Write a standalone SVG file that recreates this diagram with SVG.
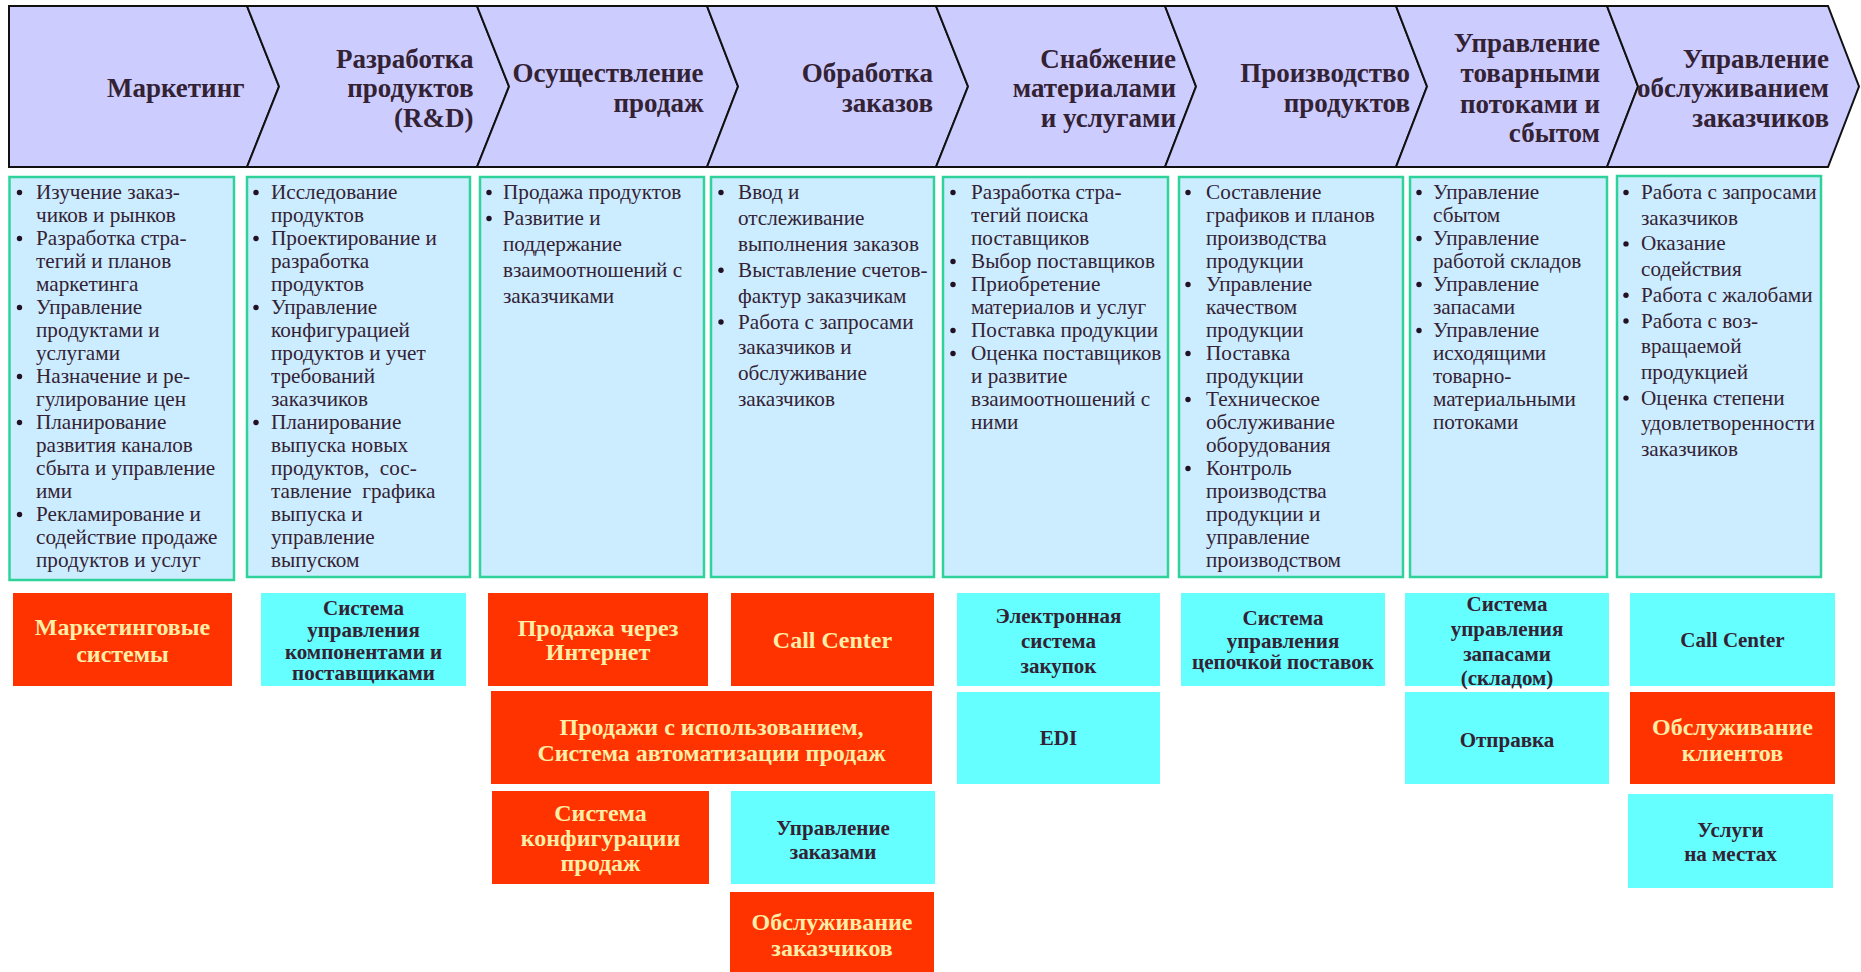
<svg xmlns="http://www.w3.org/2000/svg" width="1861" height="972" viewBox="0 0 1861 972">
<style>
.hdr{fill:#CCCCFF;stroke:#111111;stroke-width:2;stroke-linejoin:miter}
.ht{font-family:"Liberation Serif",serif;font-weight:bold;font-size:27px;fill:#332233;text-anchor:end}
.box{fill:#CCECFF;stroke:#2FD39A;stroke-width:2.5}
.bt{font-family:"Liberation Serif",serif;font-size:21.2px;fill:#332233}
.dot{fill:#221122}
.red{fill:#FF3300}
.cyan{fill:#66FFFF}
.rt{font-family:"Liberation Serif",serif;font-weight:bold;font-size:24px;fill:#FFEEA8;text-anchor:middle}
.ct{font-family:"Liberation Serif",serif;font-weight:bold;font-size:21px;fill:#332233;text-anchor:middle}
</style>

<g id="header-1"><polygon class="hdr" points="9,6 247,6 279,86.5 247,167 9,167"/>
<text class="ht"><tspan x="244.5" y="97">Маркетинг</tspan></text></g>
<g id="header-2"><polygon class="hdr" points="247,6 477,6 509,86.5 477,167 247,167 279,86.5"/>
<text class="ht"><tspan x="473.5" y="67.5">Разработка</tspan><tspan x="473.5" y="97">продуктов</tspan><tspan x="473.5" y="127">(R&amp;D)</tspan></text></g>
<g id="header-3"><polygon class="hdr" points="477,6 707,6 738,86.5 707,167 477,167 509,86.5"/>
<text class="ht"><tspan x="703.5" y="82">Осуществление</tspan><tspan x="703.5" y="112">продаж</tspan></text></g>
<g id="header-4"><polygon class="hdr" points="707,6 936,6 968,86.5 936,167 707,167 738,86.5"/>
<text class="ht"><tspan x="933" y="82">Обработка</tspan><tspan x="933" y="112">заказов</tspan></text></g>
<g id="header-5"><polygon class="hdr" points="936,6 1165,6 1196,86.5 1165,167 936,167 968,86.5"/>
<text class="ht"><tspan x="1176" y="67.5">Снабжение</tspan><tspan x="1176" y="97">материалами</tspan><tspan x="1176" y="127">и услугами</tspan></text></g>
<g id="header-6"><polygon class="hdr" points="1165,6 1396,6 1427,86.5 1396,167 1165,167 1196,86.5"/>
<text class="ht"><tspan x="1410" y="82">Производство</tspan><tspan x="1410" y="112">продуктов</tspan></text></g>
<g id="header-7"><polygon class="hdr" points="1396,6 1607,6 1638,86.5 1607,167 1396,167 1427,86.5"/>
<text class="ht"><tspan x="1600" y="52">Управление</tspan><tspan x="1600" y="82">товарными</tspan><tspan x="1600" y="112.5">потоками и</tspan><tspan x="1600" y="142">сбытом</tspan></text></g>
<g id="header-8"><polygon class="hdr" points="1607,6 1828,6 1859,86.5 1828,167 1607,167 1638,86.5"/>
<text class="ht"><tspan x="1829" y="67.5">Управление</tspan><tspan x="1829" y="97">обслуживанием</tspan><tspan x="1829" y="127">заказчиков</tspan></text></g>

<g id="tasks-1"><rect class="box" x="9.5" y="177" width="224.5" height="403"/>
<g class="dot"><circle cx="19.5" cy="192.5" r="2.7"/><circle cx="19.5" cy="238.5" r="2.7"/><circle cx="19.5" cy="307.5" r="2.7"/><circle cx="19.5" cy="376.5" r="2.7"/><circle cx="19.5" cy="422.5" r="2.7"/><circle cx="19.5" cy="514.5" r="2.7"/></g>
<text class="bt"><tspan x="36" y="199">Изучение заказ-</tspan><tspan x="36" y="222">чиков и рынков</tspan><tspan x="36" y="245">Разработка стра-</tspan><tspan x="36" y="268">тегий и планов</tspan><tspan x="36" y="291">маркетинга</tspan><tspan x="36" y="314">Управление</tspan><tspan x="36" y="337">продуктами и</tspan><tspan x="36" y="360">услугами</tspan><tspan x="36" y="383">Назначение и ре-</tspan><tspan x="36" y="406">гулирование цен</tspan><tspan x="36" y="429">Планирование</tspan><tspan x="36" y="452">развития каналов</tspan><tspan x="36" y="475">сбыта и управление</tspan><tspan x="36" y="498">ими</tspan><tspan x="36" y="521">Рекламирование и</tspan><tspan x="36" y="544">содействие продаже</tspan><tspan x="36" y="567">продуктов и услуг</tspan></text></g>

<g id="tasks-2"><rect class="box" x="247" y="177" width="223" height="400"/>
<g class="dot"><circle cx="256" cy="192.5" r="2.7"/><circle cx="256" cy="238.5" r="2.7"/><circle cx="256" cy="307.5" r="2.7"/><circle cx="256" cy="422.5" r="2.7"/></g>
<text class="bt" xml:space="preserve"><tspan x="271" y="199">Исследование</tspan><tspan x="271" y="222">продуктов</tspan><tspan x="271" y="245">Проектирование и</tspan><tspan x="271" y="268">разработка</tspan><tspan x="271" y="291">продуктов</tspan><tspan x="271" y="314">Управление</tspan><tspan x="271" y="337">конфигурацией</tspan><tspan x="271" y="360">продуктов и учет</tspan><tspan x="271" y="383">требований</tspan><tspan x="271" y="406">заказчиков</tspan><tspan x="271" y="429">Планирование</tspan><tspan x="271" y="452">выпуска новых</tspan><tspan x="271" y="475">продуктов,  сос-</tspan><tspan x="271" y="498">тавление  графика</tspan><tspan x="271" y="521">выпуска и</tspan><tspan x="271" y="544">управление</tspan><tspan x="271" y="567">выпуском</tspan></text></g>

<g id="tasks-3"><rect class="box" x="480" y="177" width="224" height="400"/>
<g class="dot"><circle cx="489" cy="192.5" r="2.7"/><circle cx="489" cy="218.5" r="2.7"/></g>
<text class="bt"><tspan x="503" y="199">Продажа продуктов</tspan><tspan x="503" y="225">Развитие и</tspan><tspan x="503" y="251">поддержание</tspan><tspan x="503" y="277">взаимоотношений с</tspan><tspan x="503" y="303">заказчиками</tspan></text></g>

<g id="tasks-4"><rect class="box" x="711" y="177" width="223" height="400"/>
<g class="dot"><circle cx="721" cy="192.5" r="2.7"/><circle cx="721" cy="270.2" r="2.7"/><circle cx="721" cy="322" r="2.7"/></g>
<text class="bt"><tspan x="738" y="199">Ввод и</tspan><tspan x="738" y="224.9">отслеживание</tspan><tspan x="738" y="250.8">выполнения заказов</tspan><tspan x="738" y="276.7">Выставление счетов-</tspan><tspan x="738" y="302.6">фактур заказчикам</tspan><tspan x="738" y="328.5">Работа с запросами</tspan><tspan x="738" y="354.4">заказчиков и</tspan><tspan x="738" y="380.3">обслуживание</tspan><tspan x="738" y="406.2">заказчиков</tspan></text></g>

<g id="tasks-5"><rect class="box" x="943" y="177" width="225" height="400"/>
<g class="dot"><circle cx="953" cy="192.5" r="2.7"/><circle cx="953" cy="261.5" r="2.7"/><circle cx="953" cy="284.5" r="2.7"/><circle cx="953" cy="330.5" r="2.7"/><circle cx="953" cy="353.5" r="2.7"/></g>
<text class="bt"><tspan x="971" y="199">Разработка стра-</tspan><tspan x="971" y="222">тегий поиска</tspan><tspan x="971" y="245">поставщиков</tspan><tspan x="971" y="268">Выбор поставщиков</tspan><tspan x="971" y="291">Приобретение</tspan><tspan x="971" y="314">материалов и услуг</tspan><tspan x="971" y="337">Поставка продукции</tspan><tspan x="971" y="360">Оценка поставщиков</tspan><tspan x="971" y="383">и развитие</tspan><tspan x="971" y="406">взаимоотношений с</tspan><tspan x="971" y="429">ними</tspan></text></g>

<g id="tasks-6"><rect class="box" x="1179" y="177" width="224" height="400"/>
<g class="dot"><circle cx="1188" cy="192.5" r="2.7"/><circle cx="1188" cy="284.5" r="2.7"/><circle cx="1188" cy="353.5" r="2.7"/><circle cx="1188" cy="399.5" r="2.7"/><circle cx="1188" cy="468.5" r="2.7"/></g>
<text class="bt"><tspan x="1206" y="199">Составление</tspan><tspan x="1206" y="222">графиков и планов</tspan><tspan x="1206" y="245">производства</tspan><tspan x="1206" y="268">продукции</tspan><tspan x="1206" y="291">Управление</tspan><tspan x="1206" y="314">качеством</tspan><tspan x="1206" y="337">продукции</tspan><tspan x="1206" y="360">Поставка</tspan><tspan x="1206" y="383">продукции</tspan><tspan x="1206" y="406">Техническое</tspan><tspan x="1206" y="429">обслуживание</tspan><tspan x="1206" y="452">оборудования</tspan><tspan x="1206" y="475">Контроль</tspan><tspan x="1206" y="498">производства</tspan><tspan x="1206" y="521">продукции и</tspan><tspan x="1206" y="544">управление</tspan><tspan x="1206" y="567">производством</tspan></text></g>

<g id="tasks-7"><rect class="box" x="1410" y="177" width="197" height="400"/>
<g class="dot"><circle cx="1419" cy="192.5" r="2.7"/><circle cx="1419" cy="238.5" r="2.7"/><circle cx="1419" cy="284.5" r="2.7"/><circle cx="1419" cy="330.5" r="2.7"/></g>
<text class="bt"><tspan x="1433" y="199">Управление</tspan><tspan x="1433" y="222">сбытом</tspan><tspan x="1433" y="245">Управление</tspan><tspan x="1433" y="268">работой складов</tspan><tspan x="1433" y="291">Управление</tspan><tspan x="1433" y="314">запасами</tspan><tspan x="1433" y="337">Управление</tspan><tspan x="1433" y="360">исходящими</tspan><tspan x="1433" y="383">товарно-</tspan><tspan x="1433" y="406">материальными</tspan><tspan x="1433" y="429">потоками</tspan></text></g>

<g id="tasks-8"><rect class="box" x="1617" y="176" width="204" height="401"/>
<g class="dot"><circle cx="1626" cy="192.5" r="2.7"/><circle cx="1626" cy="243.9" r="2.7"/><circle cx="1626" cy="295.3" r="2.7"/><circle cx="1626" cy="321" r="2.7"/><circle cx="1626" cy="398.1" r="2.7"/></g>
<text class="bt"><tspan x="1641" y="199">Работа с запросами</tspan><tspan x="1641" y="224.7">заказчиков</tspan><tspan x="1641" y="250.4">Оказание</tspan><tspan x="1641" y="276.1">содействия</tspan><tspan x="1641" y="301.8">Работа с жалобами</tspan><tspan x="1641" y="327.5">Работа с воз-</tspan><tspan x="1641" y="353.2">вращаемой</tspan><tspan x="1641" y="378.9">продукцией</tspan><tspan x="1641" y="404.6">Оценка степени</tspan><tspan x="1641" y="430.3">удовлетворенности</tspan><tspan x="1641" y="456">заказчиков</tspan></text></g>

<g id="sys-marketing"><rect class="red" x="13" y="593" width="219" height="93"/>
<text class="rt"><tspan x="122.5" y="635">Маркетинговые</tspan><tspan x="122.5" y="662">системы</tspan></text></g>
<g id="sys-components"><rect class="cyan" x="261" y="593" width="205" height="93"/>
<text class="ct"><tspan x="363.5" y="615">Система</tspan><tspan x="363.5" y="637">управления</tspan><tspan x="363.5" y="659">компонентами и</tspan><tspan x="363.5" y="680">поставщиками</tspan></text></g>
<g id="sys-internet"><rect class="red" x="488" y="593" width="220" height="93"/>
<text class="rt"><tspan x="598" y="636">Продажа через</tspan><tspan x="598" y="660">Интернет</tspan></text></g>
<g id="sys-callcenter-1"><rect class="red" x="731" y="593" width="203" height="93"/>
<text class="rt"><tspan x="832.5" y="648">Call Center</tspan></text></g>
<g id="sys-procurement"><rect class="cyan" x="957" y="593" width="203" height="93"/>
<text class="ct"><tspan x="1058.5" y="623">Электронная</tspan><tspan x="1058.5" y="648">система</tspan><tspan x="1058.5" y="673">закупок</tspan></text></g>
<g id="sys-supplychain"><rect class="cyan" x="1181" y="593" width="204" height="93"/>
<text class="ct"><tspan x="1283" y="625">Система</tspan><tspan x="1283" y="648">управления</tspan><tspan x="1283" y="669">цепочкой поставок</tspan></text></g>
<g id="sys-inventory"><rect class="cyan" x="1405" y="593" width="204" height="93"/>
<text class="ct"><tspan x="1507" y="611">Система</tspan><tspan x="1507" y="636">управления</tspan><tspan x="1507" y="661">запасами</tspan><tspan x="1507" y="685">(складом)</tspan></text></g>
<g id="sys-callcenter-2"><rect class="cyan" x="1630" y="593" width="205" height="93"/>
<text class="ct"><tspan x="1732.5" y="647">Call Center</tspan></text></g>

<g id="sys-sfa"><rect class="red" x="491" y="691" width="441" height="93"/>
<text class="rt"><tspan x="711.5" y="735">Продажи с использованием,</tspan><tspan x="711.5" y="761">Система автоматизации продаж</tspan></text></g>
<g id="sys-edi"><rect class="cyan" x="957" y="692" width="203" height="92"/>
<text class="ct"><tspan x="1058.5" y="745">EDI</tspan></text></g>
<g id="sys-shipping"><rect class="cyan" x="1405" y="692" width="204" height="92"/>
<text class="ct"><tspan x="1507" y="747">Отправка</tspan></text></g>
<g id="sys-clientservice"><rect class="red" x="1630" y="692" width="205" height="92"/>
<text class="rt"><tspan x="1732.5" y="735">Обслуживание</tspan><tspan x="1732.5" y="761">клиентов</tspan></text></g>

<g id="sys-configurator"><rect class="red" x="492" y="791" width="217" height="93"/>
<text class="rt"><tspan x="600.5" y="821">Система</tspan><tspan x="600.5" y="846">конфигурации</tspan><tspan x="600.5" y="871">продаж</tspan></text></g>
<g id="sys-orders"><rect class="cyan" x="731" y="791" width="204" height="93"/>
<text class="ct"><tspan x="833" y="835">Управление</tspan><tspan x="833" y="859">заказами</tspan></text></g>
<g id="sys-fieldservice"><rect class="cyan" x="1628" y="794" width="205" height="94"/>
<text class="ct"><tspan x="1730.5" y="837">Услуги</tspan><tspan x="1730.5" y="861">на местах</tspan></text></g>
<g id="sys-customerservice"><rect class="red" x="730" y="892" width="204" height="80"/>
<text class="rt"><tspan x="832" y="930">Обслуживание</tspan><tspan x="832" y="956">заказчиков</tspan></text></g>
</svg>
